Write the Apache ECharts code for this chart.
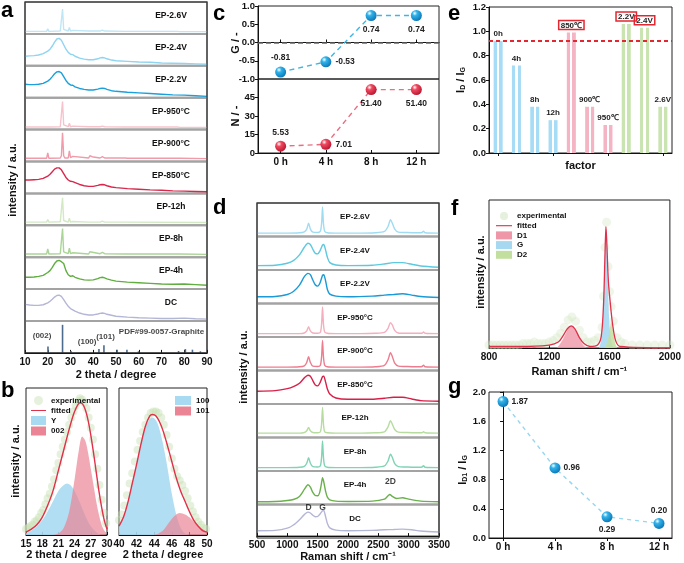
<!DOCTYPE html>
<html><head><meta charset="utf-8">
<script src="https://cdn.jsdelivr.net/npm/echarts@6/dist/echarts.min.js"></script>
<style>html,body{margin:0;padding:0;background:#fff}#c{width:684px;height:563px}</style>
</head><body><div id="c"></div>
<script>
const FONT='"Liberation Sans", Arial, sans-serif';
// ---------- panel a : XRD ----------
const xrdNames=['EP-2.6V','EP-2.4V','EP-2.2V','EP-950°C','EP-900°C','EP-850°C','EP-12h','EP-8h','EP-4h','DC'];
const xrd_EP26V=[[10,.08],[15,.08],[19.5,.08],[20,.16],[20.5,.08],[25.5,.09],[26,.12],[26.5,.78],[27,.14],[27.5,.09],[29,.09],[29.5,.2],[30,.09],[31,.11],[31.5,.09],[38,.09],[38.5,.13],[39,.09],[43,.09],[44,.12],[45,.09],[54,.08],[54.5,.1],[55,.08],[77,.08],[77.5,.09],[78,.07],[90,.07]];
const xrd_EP24V=[[10,.3],[12,.31],[14,.32],[16,.34],[18,.38],[20,.46],[21,.52],[22,.62],[23,.74],[24,.84],[25,.86],[26,.8],[27,.66],[28,.52],[29,.42],[30,.36],[31,.35],[32,.3],[34,.24],[36,.21],[38,.19],[40,.19],[42,.22],[43,.25],[44,.26],[45,.25],[46,.22],[48,.18],[50,.16],[55,.14],[60,.12],[65,.11],[70,.09],[75,.08],[80,.07],[85,.06],[90,.05]];
const xrd_EP22V=[[10,.42],[12,.41],[14,.41],[16,.42],[18,.45],[20,.52],[21,.58],[22,.66],[23,.75],[24,.81],[25,.82],[26,.78],[27,.66],[28,.54],[29,.45],[30,.4],[31,.39],[32,.34],[34,.29],[36,.26],[38,.24],[40,.24],[42,.27],[43,.29],[44,.3],[45,.29],[46,.26],[48,.22],[50,.2],[55,.17],[60,.15],[65,.13],[70,.11],[75,.09],[80,.08],[85,.06],[90,.04]];
const xrd_EP950=[[10,.08],[15,.08],[19.5,.08],[20,.14],[20.5,.08],[25.5,.09],[26,.14],[26.5,.88],[27,.15],[27.5,.09],[29,.09],[29.5,.2],[30,.09],[31,.11],[31.5,.09],[38,.09],[38.5,.12],[39,.09],[43,.09],[44,.11],[45,.09],[54,.08],[54.5,.1],[55,.08],[77,.08],[77.5,.09],[78,.07],[90,.07]];
const xrd_EP900=[[10,.1],[15,.1],[19.5,.1],[20,.27],[20.5,.1],[25.5,.11],[26,.18],[26.5,.9],[27,.18],[27.5,.11],[29,.11],[29.5,.33],[30,.12],[31,.16],[31.5,.11],[38,.11],[38.5,.18],[39,.12],[40,.14],[40.5,.11],[43,.11],[44,.15],[45,.11],[54,.11],[54.5,.14],[55,.1],[77,.1],[77.5,.12],[78,.1],[90,.09]];
const xrd_EP850=[[10,.42],[12,.42],[14,.43],[16,.44],[18,.47],[20,.54],[21,.6],[22,.68],[23,.76],[24,.8],[25,.8],[26,.74],[27,.62],[28,.5],[29,.42],[30,.38],[31,.37],[32,.34],[34,.28],[36,.24],[38,.22],[40,.22],[42,.25],[43,.27],[44,.28],[45,.27],[46,.24],[48,.2],[50,.18],[55,.15],[60,.13],[65,.11],[70,.1],[75,.08],[80,.07],[85,.06],[90,.05]];
const xrd_EP12h=[[10,.1],[15,.1],[19.5,.1],[20,.18],[20.5,.1],[25.5,.11],[26,.15],[26.5,.86],[27,.15],[27.5,.1],[29,.1],[29.5,.22],[30,.1],[31,.12],[31.5,.1],[38,.1],[38.5,.14],[39,.1],[43,.1],[44,.13],[45,.1],[54,.1],[54.5,.12],[55,.1],[90,.09]];
const xrd_EP8h=[[10,.1],[15,.1],[19.5,.1],[20,.26],[20.5,.1],[25.5,.11],[26,.17],[26.5,.9],[27,.17],[27.5,.11],[29,.11],[29.5,.28],[30,.11],[31,.14],[31.5,.1],[38,.1],[38.5,.17],[39,.11],[43,.11],[44,.15],[45,.11],[54,.1],[54.5,.14],[55,.1],[77,.1],[77.5,.12],[78,.1],[90,.09]];
const xrd_EP4h=[[10,.37],[12,.37],[14,.38],[16,.4],[18,.43],[20,.52],[21,.58],[22,.68],[23,.8],[24,.88],[25,.9],[26,.86],[26.5,.92],[27,.8],[28,.58],[29,.45],[30,.4],[31,.42],[32,.37],[34,.32],[36,.29],[38,.28],[40,.29],[42,.33],[43,.36],[44,.37],[45,.35],[46,.32],[48,.28],[50,.25],[55,.22],[60,.2],[65,.18],[70,.16],[75,.15],[80,.16],[85,.14],[90,.12]];
const xrd_DC=[[10,.52],[12,.5],[14,.49],[16,.49],[18,.51],[20,.57],[21,.62],[22,.68],[23,.75],[24,.8],[25,.81],[26,.77],[27,.67],[28,.56],[29,.46],[30,.39],[32,.31],[34,.25],[36,.21],[38,.19],[40,.19],[42,.22],[43,.24],[44,.25],[45,.24],[46,.21],[48,.18],[50,.15],[55,.12],[60,.1],[65,.09],[70,.08],[75,.08],[80,.09],[85,.07],[90,.06]];
const pdfSticks=[[20.1,.2],[26.5,.88],[30.2,.06],[42.5,.12],[44.7,.24],[50.5,.1],[54.8,.1],[59.9,.05],[77.5,.06],[80.5,.12],[83.6,.1],[87.1,.05]];
const pdfTexts=[['(002)',17.5,.55],['(100)',37.3,.34],['(101)',45.4,.52],['PDF#99-0057-Graphite',70,.66]];
// ---------- panel b ----------
const bExpL=[[15,.04],[15.4,.05],[15.8,.06],[16.2,.07],[16.6,.09],[17,.1],[17.4,.12],[17.8,.15],[18.2,.17],[18.6,.21],[19,.25],[19.4,.28],[19.8,.33],[20.2,.38],[20.6,.44],[21,.49],[21.4,.55],[21.8,.6],[22.2,.65],[22.6,.7],[23,.75],[23.4,.8],[23.8,.84],[24.2,.88],[24.6,.91],[25,.93],[25.4,.92],[25.8,.9],[26.2,.86],[26.6,.8],[27,.73],[27.4,.65],[27.8,.55],[28.2,.45],[28.6,.34],[29,.24],[29.4,.15],[29.8,.08]];
const bFitL=[[15,.02],[16,.04],[17,.07],[18,.12],[19,.2],[20,.3],[21,.44],[22,.58],[23,.72],[24,.84],[25,.9],[25.5,.89],[26,.85],[26.5,.78],[27,.68],[27.5,.56],[28,.43],[28.5,.3],[29,.19],[29.5,.1],[30,.04]];
const bY=[[15,.01],[16,.03],[17,.06],[18,.1],[19,.16],[20,.23],[21,.3],[22,.34],[22.6,.35],[23.2,.34],[24,.3],[25,.22],[26,.13],[27,.06],[28,.02],[29,0],[30,0]];
const b002=[[20,0],[21,.01],[22,.05],[23,.16],[24,.38],[24.8,.58],[25.4,.67],[26,.64],[26.5,.56],[27,.45],[27.5,.34],[28,.23],[28.5,.14],[29,.07],[29.5,.03],[30,.01]];
const bExpR=[[40,.1],[40.3,.14],[40.6,.2],[40.9,.27],[41.2,.35],[41.5,.42],[41.8,.5],[42.1,.58],[42.4,.64],[42.7,.7],[43,.75],[43.3,.8],[43.6,.83],[43.9,.84],[44.2,.84],[44.5,.83],[44.8,.8],[45.1,.75],[45.4,.68],[45.7,.6],[46,.52],[46.3,.45],[46.6,.4],[46.9,.37],[47.2,.34],[47.5,.3],[47.8,.25],[48.1,.2],[48.4,.16],[48.7,.12],[49,.09],[49.3,.07],[49.6,.05],[49.9,.04]];
const bFitR=[[40,.06],[40.5,.12],[41,.22],[41.5,.35],[42,.48],[42.5,.62],[43,.74],[43.5,.81],[43.8,.82],[44.2,.81],[44.6,.77],[45,.71],[45.5,.61],[46,.5],[46.5,.39],[47,.3],[47.5,.23],[48,.16],[48.5,.1],[49,.06],[49.5,.03],[50,.02]];
const b100=[[40,.06],[40.5,.12],[41,.22],[41.5,.35],[42,.48],[42.5,.62],[43,.73],[43.5,.79],[43.8,.8],[44.2,.78],[44.6,.72],[45,.62],[45.5,.46],[46,.28],[46.5,.14],[47,.05],[47.5,.01],[48,0]];
const b101=[[44,0],[44.5,.01],[45,.03],[45.5,.07],[46,.11],[46.5,.14],[46.9,.15],[47.5,.14],[48,.12],[48.5,.09],[49,.06],[49.5,.04],[50,.02]];
// ---------- panel c ----------
const cCats=['0 h','4 h','8 h','12 h'];
const cG=[-0.81,-0.53,0.74,0.74];
const cN=[5.53,7.01,51.40,51.40];
// ---------- panel d : Raman ----------
const ram_EP26V=[[500,.1],[1000,.1],[1200,.11],[1280,.14],[1320,.22],[1350,.4],[1380,.22],[1420,.13],[1500,.12],[1545,.16],[1565,.4],[1580,.88],[1595,.4],[1615,.16],[1660,.11],[1800,.1],[2200,.1],[2450,.11],[2600,.15],[2660,.3],[2700,.5],[2730,.4],[2770,.22],[2830,.13],[2950,.12],[3100,.11],[3220,.12],[3245,.16],[3270,.11],[3500,.1]];
const ram_EP24V=[[500,.13],[800,.14],[1000,.2],[1100,.28],[1200,.45],[1280,.68],[1340,.8],[1380,.76],[1420,.62],[1460,.5],[1500,.48],[1540,.58],[1580,.74],[1600,.76],[1630,.6],[1660,.38],[1700,.22],[1800,.15],[2000,.13],[2400,.14],[2600,.18],[2750,.22],[2900,.22],[3050,.17],[3200,.12],[3500,.08]];
const ram_EP22V=[[500,.2],[800,.21],[1000,.27],[1100,.36],[1200,.55],[1280,.8],[1340,.9],[1380,.86],[1420,.7],[1460,.56],[1500,.52],[1540,.62],[1580,.84],[1600,.86],[1630,.68],[1660,.42],[1700,.28],[1800,.22],[2000,.2],[2400,.22],[2600,.25],[2750,.27],[2900,.29],[3050,.25],[3200,.21],[3500,.18]];
const ram_EP950=[[500,.1],[1000,.1],[1200,.1],[1280,.12],[1320,.18],[1350,.31],[1380,.18],[1420,.12],[1500,.11],[1545,.14],[1565,.4],[1580,.9],[1595,.4],[1615,.15],[1660,.11],[1800,.1],[2200,.1],[2450,.11],[2600,.14],[2660,.26],[2700,.43],[2730,.36],[2770,.2],[2830,.12],[2950,.11],[3100,.11],[3220,.11],[3245,.15],[3270,.11],[3500,.1]];
const ram_EP900=[[500,.1],[1000,.1],[1200,.11],[1280,.14],[1320,.24],[1350,.41],[1380,.24],[1420,.13],[1500,.12],[1545,.16],[1565,.42],[1580,.9],[1595,.42],[1615,.16],[1660,.11],[1800,.1],[2200,.1],[2450,.11],[2600,.15],[2660,.32],[2700,.53],[2730,.42],[2770,.22],[2830,.13],[2950,.12],[3100,.11],[3220,.12],[3245,.16],[3270,.11],[3500,.1]];
const ram_EP850=[[500,.38],[800,.4],[1000,.46],[1100,.52],[1200,.62],[1280,.78],[1340,.86],[1380,.83],[1420,.7],[1460,.57],[1500,.54],[1540,.64],[1580,.82],[1600,.83],[1630,.66],[1660,.45],[1700,.3],[1800,.18],[2000,.14],[2400,.14],[2600,.17],[2750,.2],[2900,.2],[3050,.15],[3200,.1],[3500,.08]];
const ram_EP12h=[[500,.13],[1000,.13],[1200,.13],[1280,.15],[1320,.2],[1350,.3],[1380,.2],[1420,.15],[1500,.14],[1545,.17],[1565,.42],[1580,.9],[1595,.42],[1615,.17],[1660,.14],[1800,.13],[2200,.13],[2450,.14],[2600,.17],[2660,.32],[2700,.5],[2730,.4],[2770,.24],[2830,.16],[2950,.15],[3100,.14],[3220,.14],[3245,.17],[3270,.14],[3500,.13]];
const ram_EP8h=[[500,.1],[1000,.1],[1200,.11],[1280,.14],[1320,.23],[1350,.4],[1380,.23],[1420,.13],[1500,.12],[1545,.16],[1565,.42],[1580,.9],[1595,.42],[1615,.16],[1660,.11],[1800,.1],[2200,.1],[2450,.11],[2600,.15],[2660,.3],[2700,.5],[2730,.41],[2770,.22],[2830,.13],[2950,.12],[3100,.11],[3220,.12],[3245,.16],[3270,.11],[3500,.1]];
const ram_EP4h=[[500,.08],[800,.09],[1000,.12],[1100,.15],[1200,.24],[1280,.45],[1340,.59],[1380,.52],[1420,.36],[1460,.27],[1500,.26],[1530,.34],[1560,.6],[1580,.8],[1600,.68],[1630,.4],[1660,.22],[1700,.14],[1800,.1],[2000,.09],[2400,.1],[2600,.16],[2660,.26],[2690,.3],[2730,.24],[2800,.18],[2900,.2],[3000,.16],[3200,.1],[3500,.08]];
const ram_DC=[[500,.17],[800,.18],[1000,.25],[1100,.35],[1200,.52],[1280,.68],[1340,.76],[1380,.73],[1420,.66],[1460,.61],[1500,.62],[1540,.7],[1580,.8],[1600,.81],[1630,.62],[1660,.4],[1700,.26],[1800,.19],[2000,.17],[2400,.18],[2600,.2],[2750,.21],[2900,.22],[3050,.2],[3200,.16],[3500,.13]];
const ramTexts=[['D',1350,.9,9],['G',1580,.9,9],['2D',2700,.67,8]];
// ---------- panel e ----------
const eCats=['0h','4h','8h','12h','850℃','900℃','950℃','2.2V','2.4V','2.6V'];
const eVals=[0.92,0.72,0.38,0.27,0.99,0.38,0.23,1.06,1.03,0.38];
const eRef=0.92;
// ---------- panel f ----------
const fExp=[[800,.02],[825,.02],[850,.02],[875,.02],[900,.02],[925,.02],[950,.02],[975,.02],[1000,.02],[1025,.03],[1050,.03],[1075,.03],[1100,.04],[1125,.03],[1150,.03],[1175,.03],[1200,.04],[1225,.05],[1250,.07],[1275,.1],[1300,.14],[1325,.19],[1350,.21],[1375,.18],[1400,.12],[1425,.07],[1450,.04],[1475,.04],[1500,.05],[1525,.07],[1550,.14],[1560,.35],[1570,.68],[1580,.85],[1590,.55],[1600,.38],[1610,.28],[1625,.18],[1650,.07],[1675,.04],[1700,.03],[1750,.02],[1800,.02],[1850,.02],[1900,.02],[1950,.02],[2000,.02]];
const fFit=[[800,.01],[1000,.01],[1200,.02],[1260,.04],[1290,.08],[1320,.13],[1345,.15],[1370,.13],[1400,.07],[1430,.03],[1470,.01],[1520,.02],[1545,.08],[1560,.3],[1570,.65],[1576,.82],[1582,.7],[1592,.45],[1605,.3],[1620,.16],[1640,.05],[1670,.01],[2000,0]];
const fD1=[[1250,0],[1280,.04],[1310,.1],[1335,.145],[1350,.15],[1370,.13],[1400,.07],[1425,.02],[1450,0]];
const fG=[[1530,0],[1550,.08],[1562,.35],[1572,.74],[1576,.8],[1582,.68],[1590,.4],[1600,.15],[1615,.03],[1630,0]];
const fD2=[[1570,0],[1590,.06],[1605,.15],[1612,.17],[1622,.12],[1635,.04],[1650,0]];
// ---------- panel g ----------
const gHours=[0,4,8,12];
const gVals=[1.87,0.96,0.29,0.20];

// ================= build =================
const aColors=['#bfe6f6','#8fd4f0','#1ba0dc','#f6c3cd','#f09aaa','#d8284c','#d2e9c4','#aad596','#5fae3f','#b4b6d6'];
const dColors=['#9fdcf2','#5cc9df','#1a9ad6','#f4aebd','#ee7c8f','#d81f48','#b7dca0','#7fd4b4','#6ab04c','#b4b6d6'];
const grids=[],xAxes=[],yAxes=[],series=[],graphics=[];
const AX={fontFamily:FONT,fontWeight:'bold',color:'#111'};
const plain=v=>String(v);
function addGrid(g,x,y){grids.push(g);const i=grids.length-1;x.gridIndex=i;y.gridIndex=i;xAxes.push(x);yAxes.push(y);return i;}
function txt(x,y,s,size,o){o=o||{};return {type:'text',x:x,y:y,rotation:o.rot||0,z:100,style:{text:s,font:'bold '+size+'px '+FONT,fill:'#111',textAlign:o.align||'center',textVerticalAlign:o.va||'middle',align:o.align||'center',verticalAlign:o.va||'middle',rich:o.rich}};}
function frame(x,y,w,h){return {type:'rect',z:101,shape:{x:x,y:y,width:w,height:h},style:{fill:'none',stroke:'#222',lineWidth:1}};}
function valAxis(min,max,interval,extra){return Object.assign({type:'value',min:min,max:max,interval:interval,axisLine:{show:true,lineStyle:{color:'#111'}},axisTick:{show:true,inside:true,length:3,lineStyle:{color:'#111'}},axisLabel:Object.assign({fontSize:10,margin:4,formatter:plain},AX),splitLine:{show:false}},extra||{});}
function hidAxis(min,max){return {type:'value',min:min,max:max,show:false};}
function sphere(c1,c2){return {type:'radial',x:0.35,y:0.3,r:0.75,colorStops:[{offset:0,color:'#ffffff'},{offset:0.3,color:c1},{offset:1,color:c2}]};}
function stripe(c){return {type:'linear',x:0,y:0,x2:1,y2:0,colorStops:[{offset:0,color:c},{offset:0.38,color:c},{offset:0.38,color:'#ffffff'},{offset:0.62,color:'#ffffff'},{offset:0.62,color:c},{offset:1,color:c}]};}

// ---- panel a
const aData=[xrd_EP26V,xrd_EP24V,xrd_EP22V,xrd_EP950,xrd_EP900,xrd_EP850,xrd_EP12h,xrd_EP8h,xrd_EP4h,xrd_DC];
const A={left:25,top:2,width:182,h:31.9};
for(let i=0;i<11;i++){
  const last=i===10;
  const gi=addGrid({left:A.left,top:A.top+i*A.h,width:A.width,height:A.h,show:true,borderColor:'#a3a3a3',borderWidth:2},
    last?valAxis(10,90,10,{name:'2 theta / degree',nameLocation:'middle',nameGap:17,nameTextStyle:Object.assign({fontSize:11},AX)}):hidAxis(10,90),
    hidAxis(0,1));
  if(!last){
    series.push({type:'line',xAxisIndex:gi,yAxisIndex:gi,data:aData[i],symbol:'none',silent:true,lineStyle:{width:1.4,color:aColors[i]}});
    graphics.push(txt(171,A.top+i*A.h+0.43*A.h,xrdNames[i],8.5));
  } else {
    series.push({type:'bar',xAxisIndex:gi,yAxisIndex:gi,data:pdfSticks,barWidth:1.6,silent:true,itemStyle:{color:'#4d6b8c'}});
    series.push({type:'scatter',xAxisIndex:gi,yAxisIndex:gi,data:pdfTexts.map(t=>({value:[t[1],t[2]],name:t[0]})),symbolSize:1,itemStyle:{color:'rgba(0,0,0,0)'},silent:true,
      label:{show:true,position:'inside',formatter:p=>p.name,fontSize:8,fontWeight:'bold',fontFamily:FONT,color:'#111'}});
  }
}
graphics.push(frame(A.left,A.top,A.width,A.h*11));
graphics.push(txt(13,180,'intensity / a.u.',11,{rot:Math.PI/2}));

// ---- panel b
const gbL=addGrid({left:26,top:388,width:81,height:147,show:true,borderColor:'#222',borderWidth:1},
  valAxis(15,30,3,{name:'2 theta / degree',nameLocation:'middle',nameGap:13,nameTextStyle:Object.assign({fontSize:11},AX)}),hidAxis(0,1));
const gbR=addGrid({left:119,top:388,width:88,height:147,show:true,borderColor:'#222',borderWidth:1},
  valAxis(40,50,2,{name:'2 theta / degree',nameLocation:'middle',nameGap:13,nameTextStyle:Object.assign({fontSize:11},AX)}),hidAxis(0,1));
const expStyle={color:'rgba(196,222,176,0.55)'};
function area(name,gi,data,c,op){return {name:name,type:'line',xAxisIndex:gi,yAxisIndex:gi,data:data,symbol:'none',smooth:0.3,silent:true,lineStyle:{width:0},itemStyle:{color:c},areaStyle:{color:c,opacity:op}};}
series.push({name:'experimental',type:'scatter',xAxisIndex:gbL,yAxisIndex:gbL,data:bExpL,symbolSize:8,itemStyle:expStyle,silent:true});
series.push(area('Y',gbL,bY,'#a8daf1',0.9));
series.push(area('002',gbL,b002,'#eb8595',0.7));
series.push({name:'fitted',type:'line',xAxisIndex:gbL,yAxisIndex:gbL,data:bFitL,symbol:'none',smooth:0.3,silent:true,itemStyle:{color:'#e0304a'},lineStyle:{width:1.4,color:'#e0304a'}});
series.push({name:'experimental',type:'scatter',xAxisIndex:gbR,yAxisIndex:gbR,data:bExpR,symbolSize:8,itemStyle:expStyle,silent:true});
series.push(area('100',gbR,b100,'#a8daf1',0.9));
series.push(area('101',gbR,b101,'#eb8595',0.7));
series.push({name:'fitted',type:'line',xAxisIndex:gbR,yAxisIndex:gbR,data:bFitR,symbol:'none',smooth:0.3,silent:true,itemStyle:{color:'#e0304a'},lineStyle:{width:1.4,color:'#e0304a'}});
graphics.push(txt(16,461,'intensity / a.u.',11,{rot:Math.PI/2}));

// ---- panel c
const cxBase={type:'category',data:cCats,axisLine:{show:true,lineStyle:{color:'#111'}},axisTick:{show:true,inside:true,alignWithLabel:true,length:3,lineStyle:{color:'#111'}},splitLine:{show:false}};
const gcT=addGrid({left:258,top:6,width:181,height:73,show:true,borderColor:'#222',borderWidth:1},
  Object.assign({},cxBase,{axisLabel:{show:false}}),
  valAxis(-1,1,0.5,{axisTick:{show:true,inside:false,length:3,lineStyle:{color:'#111'}},axisLabel:Object.assign({fontSize:9.5,margin:3,formatter:v=>v.toFixed(1)},AX)}));
const gcB=addGrid({left:258,top:79,width:181,height:74,show:true,borderColor:'#222',borderWidth:1},
  Object.assign({},cxBase,{axisLabel:Object.assign({fontSize:10,margin:4},AX)}),
  valAxis(0,60,15,{axisTick:{show:true,inside:false,length:3,lineStyle:{color:'#111'}},axisLabel:Object.assign({fontSize:9.5,margin:3,showMaxLabel:false},AX)}));
const cGpos=['top','right','bottom','bottom'];
const cNpos=['top','right','bottom','bottom'];
const ptLabel=Object.assign({show:true,fontSize:8.5,distance:4,formatter:p=>Number(p.value).toFixed(2)},AX,{color:'#222'});
series.push({type:'line',xAxisIndex:gcT,yAxisIndex:gcT,data:cG.map((v,i)=>({value:v,label:{position:cGpos[i]}})),symbol:'circle',symbolSize:11,silent:true,
  lineStyle:{type:[5,4],width:1.4,color:'#3cb6e3'},itemStyle:{color:sphere('#2fb3ea','#0b74b5')},label:ptLabel,
  markLine:{silent:true,symbol:'none',label:{show:false},lineStyle:{type:[5,3],color:'#666',width:1.5},data:[{yAxis:0}]}});
series.push({type:'line',xAxisIndex:gcB,yAxisIndex:gcB,data:cN.map((v,i)=>({value:v,label:{position:cNpos[i]}})),symbol:'circle',symbolSize:11,silent:true,
  lineStyle:{type:[5,4],width:1.4,color:'#ea6d80'},itemStyle:{color:sphere('#f04a60','#b5142f')},label:ptLabel});
graphics.push(txt(236,43,'G / -',11,{rot:Math.PI/2}));
graphics.push(txt(236,116,'N / -',11,{rot:Math.PI/2}));

// ---- panel d
const dData=[ram_EP26V,ram_EP24V,ram_EP22V,ram_EP950,ram_EP900,ram_EP850,ram_EP12h,ram_EP8h,ram_EP4h,ram_DC];
const D={left:257,top:203,width:182,h:33.5};
for(let i=0;i<10;i++){
  const last=i===9;
  const gi=addGrid({left:D.left,top:D.top+i*D.h,width:D.width,height:D.h,show:true,borderColor:'#a3a3a3',borderWidth:2},
    last?valAxis(500,3500,500,{name:'Raman shift / cm⁻¹',nameLocation:'middle',nameGap:14,nameTextStyle:Object.assign({fontSize:11},AX)}):hidAxis(500,3500),
    hidAxis(0,1));
  series.push({type:'line',xAxisIndex:gi,yAxisIndex:gi,data:dData[i],symbol:'none',smooth:0.25,silent:true,lineStyle:{width:1.4,color:dColors[i]}});
  graphics.push(txt(355,D.top+i*D.h+0.42*D.h,xrdNames[i],8));
  if(i===8||i===9){
    const items=ramTexts.filter(t=>(i===9)===(t[0]!=='2D'));
    series.push({type:'scatter',xAxisIndex:gi,yAxisIndex:gi,data:items.map(t=>({value:[t[1],t[2]],name:t[0]})),symbolSize:1,itemStyle:{color:'rgba(0,0,0,0)'},silent:true,
      label:{show:true,position:'inside',formatter:p=>p.name,fontSize:8.5,fontWeight:'bold',fontFamily:FONT,color:'#111'}});
  }
}
graphics.push(frame(D.left,D.top,D.width,D.h*10));
graphics.push(txt(244,367,'intensity / a.u.',11,{rot:Math.PI/2}));

// ---- panel e
const eColors=['#a6dcf5','#a6dcf5','#a6dcf5','#a6dcf5','#f4b4c3','#f4b4c3','#f4b4c3','#c9e3b1','#c9e3b1','#c9e3b1'];
const eBoxed=[false,false,false,false,true,false,false,true,true,false];
const ge=addGrid({left:489,top:7,width:183,height:146,show:true,borderColor:'#222',borderWidth:1},
  {type:'category',data:eCats,axisLine:{show:true,lineStyle:{color:'#111'}},axisTick:{show:true,inside:false,alignWithLabel:true,length:3,lineStyle:{color:'#111'}},axisLabel:{show:false},
   name:'factor',nameLocation:'middle',nameGap:7,nameTextStyle:Object.assign({fontSize:11,verticalAlign:'top'},AX)},
  valAxis(0,1.2,0.2,{axisTick:{show:true,inside:false,length:3,lineStyle:{color:'#111'}},axisLabel:Object.assign({fontSize:9.5,margin:3,formatter:v=>v.toFixed(1)},AX)}));
series.push({type:'bar',xAxisIndex:ge,yAxisIndex:ge,barWidth:9,silent:true,
  data:eVals.map((v,i)=>({value:v,itemStyle:{color:stripe(eColors[i])},label:eBoxed[i]?{borderColor:'#e3262f',borderWidth:1.5,padding:[1,2,0,2]}:{}})),
  label:Object.assign({show:true,position:'top',distance:3,fontSize:8,formatter:p=>p.name},AX,{color:'#222'}),
  markLine:{silent:true,symbol:'none',label:{show:false},lineStyle:{type:[4,3],color:'#e3262f',width:2},data:[{yAxis:eRef}]}});
const subRich={m:{fontSize:11,fontWeight:'bold',fontFamily:FONT,fill:'#111',color:'#111'},s:{fontSize:7,fontWeight:'bold',fontFamily:FONT,fill:'#111',color:'#111',verticalAlign:'bottom'}};
graphics.push(txt(461,80,'{m|I}{s|D}{m| / I}{s|G}',11,{rot:Math.PI/2,rich:subRich}));

// ---- panel f
const gf=addGrid({left:489,top:200,width:183,height:148,show:true,borderColor:'#222',borderWidth:1},
  valAxis(800,2000,400,{name:'Raman shift / cm⁻¹',nameLocation:'middle',nameGap:18,nameTextStyle:Object.assign({fontSize:11},AX)}),hidAxis(0,1));
series.push({name:'experimental',type:'scatter',xAxisIndex:gf,yAxisIndex:gf,data:fExp,symbolSize:9,itemStyle:{color:'rgba(205,228,188,0.4)'},silent:true});
series.push(area('D1',gf,fD1,'#ef97a8',0.8));
series.push(area('G',gf,fG,'#a6d8f2',0.9));
series.push(area('D2',gf,fD2,'#c3df9f',0.85));
series.push({name:'fitted',type:'line',xAxisIndex:gf,yAxisIndex:gf,data:fFit,symbol:'none',smooth:0.3,silent:true,itemStyle:{color:'#e0304a'},lineStyle:{width:1.3,color:'#e0304a'}});
graphics.push(txt(481,272,'intensity / a.u.',11,{rot:Math.PI/2}));

// ---- panel g
const gg=addGrid({left:489,top:392,width:183,height:146,show:true,borderColor:'#222',borderWidth:1},
  valAxis(-1.08,13,4,{axisLabel:Object.assign({fontSize:10,margin:4,customValues:gHours,formatter:v=>v+' h'},AX),axisTick:{show:true,inside:false,length:3,customValues:gHours,lineStyle:{color:'#111'}}}),
  valAxis(0,2,0.4,{axisTick:{show:true,inside:false,length:3,lineStyle:{color:'#111'}},axisLabel:Object.assign({fontSize:9.5,margin:3,formatter:v=>v.toFixed(1)},AX)}));
const gPos=['right','right','bottom','top'];
series.push({type:'line',xAxisIndex:gg,yAxisIndex:gg,data:gVals.map((v,i)=>({value:[gHours[i],v],label:{position:gPos[i]}})),symbol:'circle',symbolSize:11,silent:true,
  lineStyle:{type:[4,4],width:1.4,color:'#95d6f0'},itemStyle:{color:sphere('#2fb3ea','#0b74b5')},
  label:Object.assign({show:true,fontSize:8.5,distance:3,formatter:p=>p.value[1].toFixed(2)},AX,{color:'#222'})});
graphics.push(txt(463,470,'{m|I}{s|D1}{m| / I}{s|G}',11,{rot:Math.PI/2,rich:subRich}));

// ---- panel letters
[['a',1,0],['b',1,380],['c',213,3],['d',213,197],['e',448,3],['f',451,198],['g',448,376]].forEach(l=>{
  graphics.push({type:'text',x:l[1],y:l[2],z:100,style:{text:l[0],font:'bold 22px '+FONT,fill:'#000',textAlign:'left',textVerticalAlign:'top',align:'left',verticalAlign:'top'}});
});

const lineIcon='path://M0,0L0,0M0,4.3H20V5.7H0ZM20,10L20,10';
const legTS=Object.assign({fontSize:8},AX);
const option={
  animation:false,
  textStyle:{fontFamily:FONT,fontWeight:'bold'},
  grid:grids,xAxis:xAxes,yAxis:yAxes,series:series,graphic:graphics,
  legend:[
    {left:26,top:391,orient:'vertical',itemWidth:15,itemHeight:9,itemGap:1.5,selectedMode:false,textStyle:legTS,
     data:[{name:'experimental',icon:'circle'},{name:'fitted',icon:lineIcon},{name:'Y',icon:'rect'},{name:'002',icon:'rect'}]},
    {left:170,top:391,orient:'vertical',itemWidth:16,itemHeight:9,itemGap:1.5,selectedMode:false,textStyle:legTS,
     data:[{name:'100',icon:'rect'},{name:'101',icon:'rect'}]},
    {left:491,top:207,orient:'vertical',itemWidth:16,itemHeight:8,itemGap:1.7,selectedMode:false,textStyle:legTS,
     data:[{name:'experimental',icon:'circle'},{name:'fitted',icon:lineIcon},{name:'D1',icon:'rect'},{name:'G',icon:'rect'},{name:'D2',icon:'rect'}]}
  ]
};
const chart=echarts.init(document.getElementById('c'),null,{renderer:'canvas'});
chart.setOption(option);
</script></body></html>
